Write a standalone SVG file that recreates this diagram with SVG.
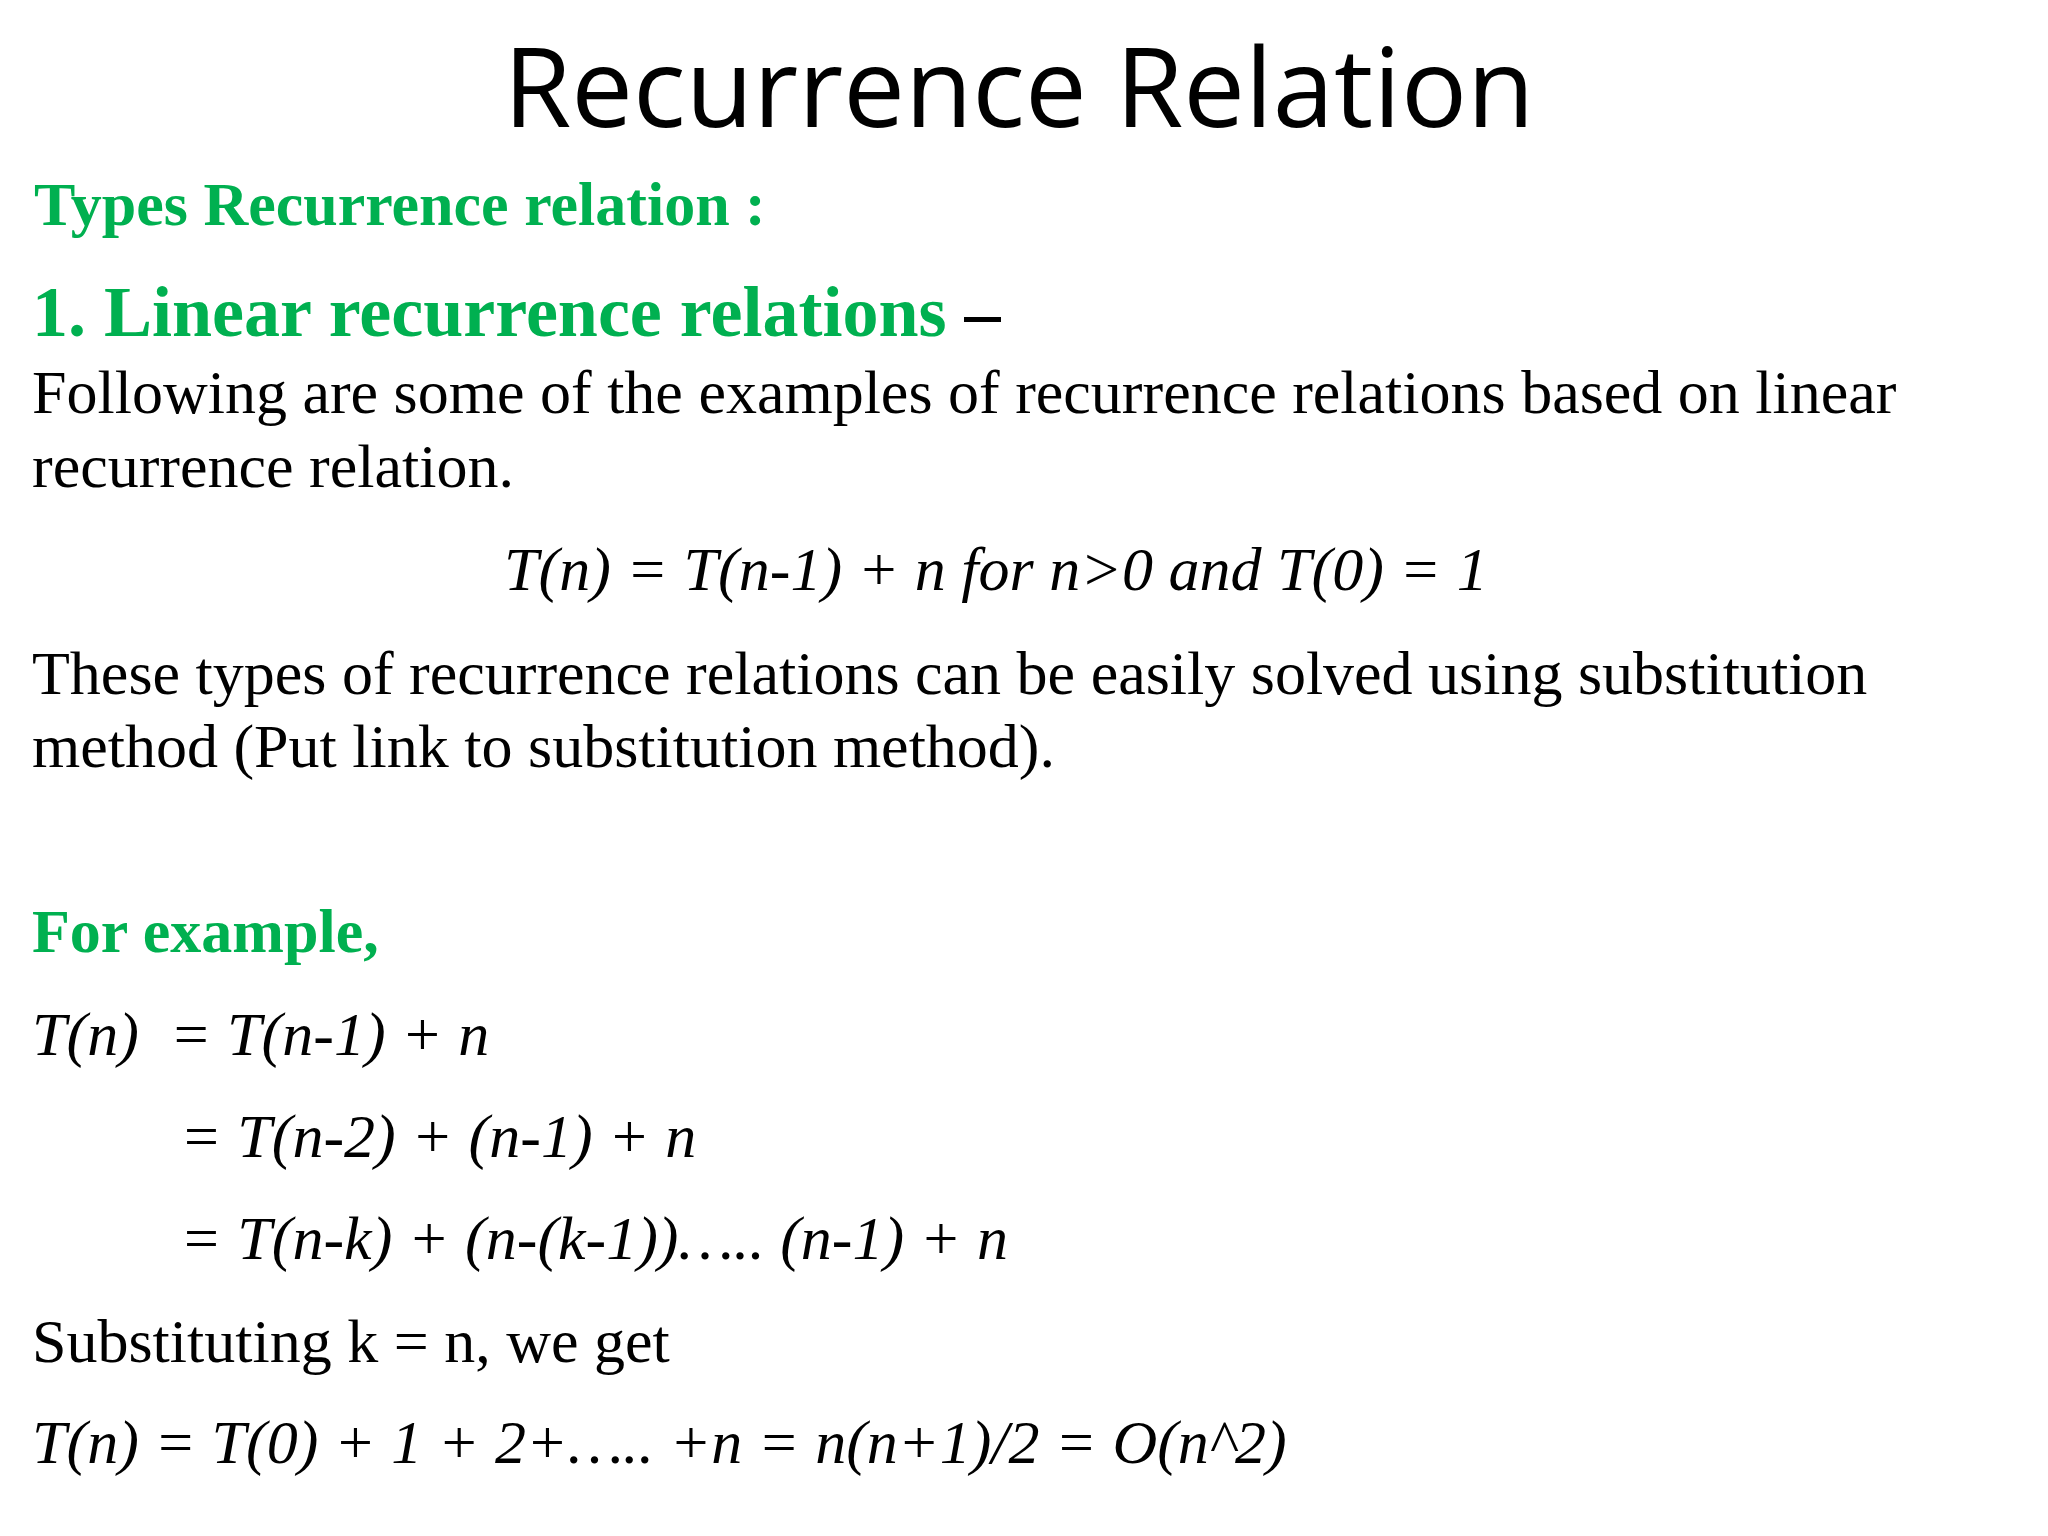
<svg xmlns="http://www.w3.org/2000/svg" width="2048" height="1536" viewBox="0 0 2048 1536">
<style>
.title{font-family:"Open Sans","Liberation Sans",sans-serif;font-size:110px;fill:#000}
.serif{font-family:"Liberation Serif","Times New Roman",serif;font-size:62px;fill:#000}
.green{fill:#00B050;font-weight:bold}
.big{font-size:72px}
.it{font-style:italic}
</style>
<rect x="0" y="0" width="2048" height="1536" fill="#ffffff"/>
<g id="title">
<text class="title" x="1019" y="127" text-anchor="middle">Recurrence Relation</text>
</g>
<g id="types-heading">
<text class="serif green" x="34" y="225">Types Recurrence relation :</text>
</g>
<g id="linear-heading">
<text class="serif big" x="32" y="336"><tspan class="green">1. Linear recurrence relations</tspan><tspan font-weight="bold"> –</tspan></text>
</g>
<g id="intro">
<text class="serif" x="32" y="413">Following are some of the examples of recurrence relations based on linear</text>
<text class="serif" x="32" y="487">recurrence relation.</text>
</g>
<g id="equation">
<text class="serif it" x="504" y="590">T(n) = T(n-1) + n for n&gt;0 and T(0) = 1</text>
</g>
<g id="method">
<text class="serif" x="32" y="694">These types of recurrence relations can be easily solved using substitution</text>
<text class="serif" x="32" y="767">method (Put link to substitution method).</text>
</g>
<g id="example-heading">
<text class="serif green" x="32" y="952">For example,</text>
</g>
<g id="derivation">
<text class="serif it" x="32" y="1055" xml:space="preserve">T(n)  = T(n-1) + n</text>
<text class="serif it" x="180" y="1157">= T(n-2) + (n-1) + n</text>
<text class="serif it" x="180" y="1259">= T(n-k) + (n-(k-1))….. (n-1) + n</text>
<text class="serif" x="32" y="1362">Substituting k = n, we get</text>
<text class="serif it" x="32" y="1463">T(n) = T(0) + 1 + 2+….. +n = n(n+1)/2 = O(n^2)</text>
</g>
<g id="connectors"></g>
</svg>
